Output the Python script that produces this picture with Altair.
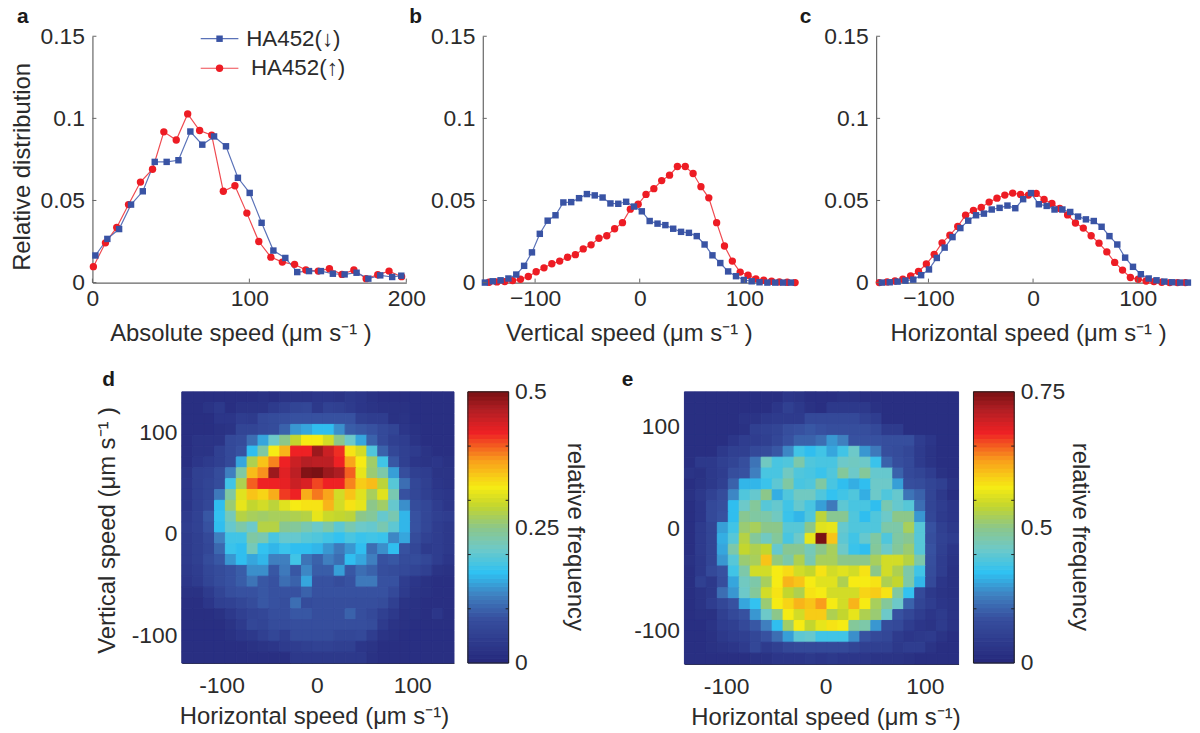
import altair as alt
import pandas as pd

FONT = "Liberation Sans"
INK = "#2b2b2b"
BLUE = "#3953a4"
RED = "#ed1c24"
BLUE_L = "#5a72b8"
RED_L = "#ef4a50"

# ---------- panel a
a_blue_x = [1.9,9.5,17,24.6,32.1,39.7,47.3,54.8,62.4,70,77.5,85.1,92.7,100.2,107.8,115.3,122.9,130.5,138,145.6,153.2,160.7,168.3,175.8,183.4,191,196.8]
a_blue_y = [.0165,.0266,.0326,.0475,.0556,.0735,.0735,.0745,.092,.084,.089,.083,.0638,.0546,.0364,.0195,.015,.0064,.007,.007,.0054,.005,.006,.0024,.0044,.0034,.0042]
a_red_x = [.6,8.3,15.5,23,30.6,38.3,45.5,53.4,60.7,68.3,76,83.4,90.8,98.4,106,113.7,121,128.8,136,143.9,151,159,166.6,174.4,181.8,189,197]
a_red_y = [.0097,.0242,.0336,.0475,.0612,.069,.0918,.0868,.1027,.0926,.0898,.0556,.059,.0423,.025,.0155,.0125,.0111,.0077,.007,.0085,.005,.0077,.0024,.0048,.007,.0036]

# ---------- panel b
b_blue_x = [-148,-140.5,-133,-125.5,-118,-110.5,-103,-95.5,-88,-80.5,-73,-65.5,-58,-50.5,-43,-35.5,-28,-20.5,-13,-5.5,2,9.5,17,24.5,32,39.5,47,54.5,62,69.5,77,84.5,92,99.5,107,114.5,122,129.5,137,144.5]
b_blue_y = [0,.0008,.0014,.0025,.0049,.0102,.0184,.0297,.0377,.041,.0488,.049,.0514,.0539,.0531,.0518,.0482,.048,.0492,.0463,.0434,.0375,.0359,.035,.0328,.0309,.0303,.0283,.0232,.0166,.0119,.0068,.0039,.0016,.0008,.0002,0,0,0,0]
b_red_x = [-144,-136.5,-129,-121.5,-114,-106.5,-99,-91.5,-84,-76.5,-69,-61.5,-54,-46.5,-39,-31.5,-24,-16.5,-9,-1.5,6,13.5,21,28.5,36,43.5,51,58.5,66,73.5,81,88.5,96,103.5,111,118.5,126,133.5,141,148.5]
b_red_y = [.0002,.0004,.0006,.0012,.002,.0037,.0066,.009,.0115,.0131,.0154,.017,.0205,.023,.027,.0285,.0328,.0365,.0447,.0477,.0537,.0572,.0621,.0654,.0707,.0707,.0664,.0584,.0516,.0365,.0223,.0131,.0064,.0045,.0023,.0014,.0008,.0004,.0002,0]

# ---------- panel c
c_blue_x = [-144.5,-137,-129.5,-122,-114.5,-107,-99.5,-92,-84.5,-77,-69.5,-62,-54.5,-47,-39.5,-32,-24.5,-17,-9.5,-2,5.5,13,20.5,28,35.5,43,50.5,58,65.5,73,80.5,88,95.5,103,110.5,118,125.5,133,140.5,148]
c_blue_y = [0,.0002,.0006,.0012,.0018,.0045,.008,.015,.0213,.0277,.0332,.0377,.041,.042,.0445,.0455,.0469,.0453,.0508,.0545,.0477,.0467,.0445,.0445,.043,.0402,.0385,.0375,.034,.0283,.0232,.0152,.0096,.0051,.0025,.0014,.0006,.0002,0,0]
c_red_x = [-147,-139.5,-132,-124.5,-117,-109.5,-102,-94.5,-87,-79.5,-72,-64.5,-57,-49.5,-42,-34.5,-27,-19.5,-12,-4.5,3,10.5,18,25.5,33,40.5,48,55.5,63,70.5,78,85.5,93,100.5,108,115.5,123,130.5,138,145.5]
c_red_y = [0,.0004,.001,.002,.0041,.0068,.0113,.0172,.0242,.0289,.0342,.041,.0439,.0457,.049,.0514,.0533,.0545,.0537,.0533,.0543,.0506,.0482,.0451,.0412,.0363,.0332,.0285,.024,.0187,.0123,.0076,.0031,.002,.001,.0006,.0002,0,0,0]

# ---------- heat maps (fraction of colour bar maximum, top row first)
d_rows = [
[.03,.03,.03,.03,.03,.03,.03,.04,.03,.05,.05,.05,.06,.06,.05,.07,.06,.04,.03,.03,.03,.03,.03,.03,.03],
[.03,.03,.05,.07,.03,.05,.05,.05,.08,.1,.12,.13,.07,.11,.1,.08,.06,.05,.04,.04,.04,.03,.03,.03,.03],
[.03,.03,.03,.06,.06,.09,.08,.14,.15,.16,.17,.17,.17,.17,.17,.17,.1,.09,.09,.04,.05,.03,.03,.03,.03],
[.03,.03,.03,.04,.05,.12,.12,.14,.15,.2,.28,.3,.33,.33,.27,.19,.18,.17,.14,.12,.06,.04,.03,.03,.03],
[.03,.05,.05,.05,.14,.15,.22,.3,.42,.5,.58,.65,.65,.6,.5,.42,.3,.2,.14,.1,.09,.05,.03,.03,.03],
[.03,.05,.05,.1,.14,.17,.33,.47,.65,.72,.85,.85,.96,.9,.84,.66,.6,.38,.2,.13,.1,.08,.05,.03,.03],
[.03,.06,.08,.1,.14,.3,.55,.7,.77,.85,.9,.93,.92,.92,.85,.74,.65,.53,.36,.18,.1,.06,.05,.06,.04],
[.05,.1,.11,.15,.25,.47,.71,.76,.96,.87,.92,.99,1,.96,.94,.8,.63,.52,.46,.29,.16,.1,.09,.05,.05],
[.06,.1,.12,.15,.36,.55,.8,.85,.85,.86,.9,.88,.82,.85,.85,.77,.69,.71,.57,.39,.22,.13,.1,.06,.05],
[.06,.1,.12,.24,.47,.62,.7,.68,.73,.83,.85,.73,.78,.74,.6,.7,.62,.54,.62,.45,.17,.13,.1,.07,.06],
[.06,.1,.13,.33,.52,.63,.58,.6,.57,.62,.65,.66,.66,.72,.6,.66,.63,.5,.53,.41,.27,.15,.13,.09,.06],
[.08,.11,.18,.34,.44,.56,.54,.53,.54,.54,.55,.56,.63,.59,.58,.57,.5,.48,.41,.45,.32,.17,.13,.1,.09],
[.09,.11,.17,.33,.41,.46,.42,.56,.56,.49,.48,.45,.42,.46,.4,.45,.42,.41,.45,.4,.32,.17,.13,.09,.07],
[.08,.1,.14,.25,.36,.36,.47,.45,.37,.41,.41,.39,.38,.36,.34,.37,.35,.36,.35,.26,.3,.15,.11,.09,.07],
[.08,.1,.13,.21,.35,.33,.44,.34,.32,.35,.33,.33,.32,.28,.24,.28,.33,.22,.27,.33,.17,.13,.08,.09,.07],
[.08,.1,.15,.18,.28,.33,.3,.32,.25,.25,.36,.23,.2,.25,.22,.33,.3,.25,.17,.18,.15,.15,.13,.09,.06],
[.07,.09,.13,.15,.17,.19,.27,.27,.18,.24,.18,.26,.19,.19,.29,.18,.22,.2,.16,.15,.14,.12,.1,.05,.04],
[.06,.08,.12,.15,.17,.19,.23,.18,.17,.22,.2,.3,.17,.17,.15,.17,.24,.24,.17,.17,.09,.06,.04,.03,.03],
[.04,.04,.08,.12,.16,.17,.17,.18,.17,.17,.17,.2,.17,.17,.17,.17,.17,.17,.17,.14,.08,.05,.04,.03,.03],
[.03,.03,.06,.1,.11,.13,.15,.18,.17,.16,.22,.15,.16,.16,.16,.16,.16,.16,.15,.1,.05,.04,.03,.03,.03],
[.03,.03,.03,.04,.07,.1,.12,.13,.16,.16,.18,.18,.16,.16,.16,.2,.16,.14,.1,.07,.04,.04,.03,.06,.03],
[.03,.03,.03,.03,.05,.08,.13,.12,.15,.15,.16,.16,.16,.16,.16,.16,.16,.15,.08,.05,.04,.03,.03,.03,.03],
[.03,.03,.03,.03,.04,.06,.07,.1,.13,.1,.15,.15,.15,.15,.13,.13,.14,.09,.05,.04,.03,.03,.03,.03,.03],
[.03,.03,.03,.03,.03,.03,.04,.05,.06,.08,.09,.1,.11,.11,.1,.1,.06,.05,.03,.03,.03,.03,.03,.03,.03],
[.03,.03,.03,.03,.03,.03,.03,.03,.03,.03,.07,.07,.07,.07,.07,.07,.07,.04,.03,.03,.03,.03,.03,.03,.03],
]
e_rows = [
[.03,.03,.03,.03,.03,.03,.03,.03,.03,.06,.05,.03,.03,.03,.04,.04,.03,.03,.03,.03,.03,.03,.03,.03,.03],
[.03,.03,.03,.03,.03,.03,.03,.03,.06,.1,.07,.04,.03,.07,.07,.07,.07,.04,.03,.03,.03,.03,.03,.03,.03],
[.03,.03,.03,.03,.03,.05,.05,.07,.08,.08,.08,.14,.14,.14,.14,.14,.11,.09,.03,.03,.03,.03,.03,.03,.03],
[.03,.03,.03,.03,.03,.04,.1,.11,.12,.16,.17,.18,.17,.16,.16,.16,.16,.14,.08,.08,.03,.03,.03,.03,.03],
[.03,.03,.03,.03,.06,.09,.09,.1,.13,.17,.2,.2,.22,.28,.25,.17,.17,.17,.16,.16,.16,.09,.06,.03,.03],
[.03,.03,.03,.07,.1,.1,.14,.15,.18,.26,.36,.33,.36,.3,.36,.42,.28,.24,.16,.15,.13,.08,.05,.03,.03],
[.03,.07,.07,.1,.12,.16,.23,.43,.37,.38,.46,.38,.37,.37,.42,.43,.42,.35,.2,.16,.14,.08,.05,.03,.03],
[.05,.04,.07,.09,.16,.17,.25,.37,.37,.43,.38,.37,.35,.38,.48,.42,.48,.41,.41,.2,.14,.12,.09,.04,.03],
[.03,.05,.07,.1,.2,.32,.32,.35,.4,.47,.37,.38,.47,.37,.33,.31,.33,.42,.42,.29,.16,.15,.12,.1,.05],
[.04,.07,.11,.15,.26,.38,.41,.5,.31,.38,.43,.43,.38,.34,.36,.38,.31,.42,.38,.41,.23,.2,.12,.07,.03],
[.03,.06,.14,.16,.33,.42,.48,.39,.41,.36,.41,.37,.29,.24,.4,.37,.37,.33,.45,.41,.39,.22,.12,.09,.06],
[.03,.06,.14,.17,.33,.49,.47,.46,.43,.35,.32,.38,.57,.49,.49,.38,.33,.38,.42,.5,.5,.28,.13,.08,.06],
[.03,.08,.12,.29,.36,.52,.54,.5,.5,.39,.39,.5,.62,.63,.41,.38,.38,.38,.46,.46,.54,.39,.17,.1,.07],
[.03,.08,.12,.31,.39,.56,.48,.43,.48,.37,.42,.63,1,.7,.4,.36,.41,.47,.38,.47,.49,.39,.16,.11,.09],
[.03,.08,.12,.3,.46,.58,.55,.58,.41,.49,.49,.44,.5,.54,.42,.35,.33,.48,.42,.48,.52,.39,.17,.1,.06],
[.04,.07,.12,.28,.39,.52,.54,.7,.51,.46,.55,.45,.54,.54,.5,.5,.5,.54,.6,.6,.56,.46,.16,.09,.05],
[.03,.07,.14,.17,.36,.46,.6,.6,.65,.67,.6,.58,.66,.6,.62,.6,.66,.5,.6,.55,.46,.36,.15,.09,.04],
[.03,.1,.07,.16,.3,.43,.46,.54,.65,.72,.7,.65,.62,.62,.55,.65,.65,.66,.55,.58,.46,.32,.14,.06,.04],
[.03,.05,.07,.22,.28,.42,.48,.6,.66,.58,.55,.66,.65,.6,.6,.6,.68,.69,.66,.47,.34,.14,.07,.05,.04],
[.03,.05,.09,.13,.17,.3,.34,.52,.65,.68,.72,.7,.75,.65,.6,.72,.65,.54,.48,.42,.2,.12,.09,.06,.05],
[.03,.04,.04,.1,.14,.17,.28,.42,.5,.65,.6,.69,.69,.55,.58,.63,.55,.52,.42,.17,.13,.09,.06,.08,.05],
[.03,.03,.05,.09,.1,.14,.18,.25,.33,.53,.65,.58,.63,.66,.65,.48,.46,.28,.15,.14,.09,.06,.05,.08,.05],
[.03,.03,.04,.07,.09,.1,.13,.17,.22,.29,.4,.41,.36,.36,.36,.27,.17,.14,.13,.08,.06,.07,.08,.05,.03],
[.03,.03,.04,.05,.06,.08,.13,.08,.1,.13,.14,.14,.14,.14,.14,.12,.1,.1,.1,.07,.09,.09,.05,.03,.03],
[.03,.03,.03,.03,.03,.03,.04,.04,.06,.06,.06,.07,.06,.07,.06,.06,.06,.05,.05,.05,.04,.03,.03,.03,.03],
]

jet_pos = [0,.168,.25,.335,.42,.5,.58,.65,.75,.85,.93,1]
jet_col = ["#26287c","#37509f","#3f7fbf","#2fc2f2","#6dc9c9","#8cc78a","#c3d62e","#f6eb14","#f99d1c","#ee2124","#b51f24","#7a1114"]
jet = alt.Scale(domain=jet_pos, range=jet_col, interpolate="rgb", clamp=True)

LABEL_SIZE = 23
TITLE_SIZE = 24


def axis(values, title=None, expr="format(datum.value,'~g')", domain=True, **kw):
    kw.setdefault("domainColor", "#666")
    return alt.Axis(values=values, title=title, labelExpr=expr, grid=False,
                    domain=domain, domainWidth=1.2, ticks=False, labelFlush=False, labelOverlap=False,
                    labelFont=FONT, labelFontSize=LABEL_SIZE, labelColor=INK,
                    titleFont=FONT, titleFontSize=TITLE_SIZE, titleColor=INK, titleFontWeight="normal",
                    **kw)


def letter(s, x, y):
    return alt.Chart(pd.DataFrame({"t": [s]})).mark_text(
        font=FONT, fontSize=21, fontWeight="bold", color="#1a1a1a", align="left", baseline="alphabetic"
    ).encode(text="t:N", x=alt.value(x), y=alt.value(y))


def curves(bx, by, rx, ry, xdom, xticks, xtitle, ytitle, ltr, lx, ly, tx, extra=None):
    xs = alt.Scale(domain=xdom, nice=False, zero=False)
    ys = alt.Scale(domain=[0, .15], nice=False)
    yticks = [0, .05, .1, .15]
    xax = axis(xticks, xtitle, labelPadding=5, titleX=tx, titleY=39, titleAlign="center")
    if ytitle:
        yax = axis(yticks, ytitle, labelPadding=8, titleX=-58, titleY=131, titleAlign="center")
    else:
        yax = axis(yticks, None, labelPadding=8)
    blue = pd.DataFrame({"x": bx, "y": by})
    red = pd.DataFrame({"x": rx, "y": ry})
    X = alt.X("x:Q", scale=xs, axis=xax)
    Y = alt.Y("y:Q", scale=ys, axis=yax)
    layers = [
        alt.Chart(red).mark_line(color=RED_L, strokeWidth=1.2).encode(x=X, y=Y),
        alt.Chart(blue).mark_line(color=BLUE_L, strokeWidth=1.2).encode(x=X, y=Y),
        alt.Chart(red).mark_point(filled=True, shape="circle", size=55, color=RED, opacity=1).encode(x=X, y=Y),
        alt.Chart(blue).mark_point(filled=True, shape="square", size=42, color=BLUE, opacity=1).encode(x=X, y=Y),
        alt.Chart(pd.DataFrame({"y": yticks})).mark_rule(color="#666").encode(
            x=alt.value(0), x2=alt.value(4), y=Y),
        alt.Chart(pd.DataFrame({"x": xticks})).mark_rule(color="#666").encode(
            y=alt.value(248), y2=alt.value(244), x=X),
        letter(ltr, lx, ly),
    ]
    if extra:
        layers += extra(X, Y)
    return alt.layer(*layers).properties(width=316, height=248)


# legend of panel a, in data units
leg_line_x = [69, 93]
leg_mark_x = [81]
leg_text_x = [98, 101]
leg_y = [.1485, .1305]
leg_labels = ["HA452(↓)", "HA452(↑)"]


def legend(X, Y):
    out = []
    for i, (col, line_col, shape, size) in enumerate([(BLUE, BLUE_L, "square", 42), (RED, RED_L, "circle", 55)]):
        d = pd.DataFrame({"x": leg_line_x, "y": [leg_y[i]] * 2})
        out.append(alt.Chart(d).mark_line(color=line_col, strokeWidth=1.2).encode(x=X, y=Y))
        m = pd.DataFrame({"x": leg_mark_x, "y": [leg_y[i]]})
        out.append(alt.Chart(m).mark_point(filled=True, shape=shape, size=size, color=col, opacity=1).encode(x=X, y=Y))
        t = pd.DataFrame({"x": [leg_text_x[i]], "y": [leg_y[i]], "t": [leg_labels[i]]})
        out.append(alt.Chart(t).mark_text(font=FONT, fontSize=22.5, color=INK, align="left", baseline="middle").encode(
            x=X, y=Y, text="t:N"))
    return out


panel_a = curves(a_blue_x, a_blue_y, a_red_x, a_red_y, [0, 200], [0, 100, 200],
                 "Absolute speed (μm s⁻¹ )", "Relative distribution", "a", -76, -13, 149, legend)
panel_b = curves(b_blue_x, b_blue_y, b_red_x, b_red_y, [-150, 150], [-100, 0, 100],
                 "Vertical speed (μm s⁻¹ )", None, "b", -74, -13, 147)
panel_c = curves(c_blue_x, c_blue_y, c_red_x, c_red_y, [-150, 150], [-100, 0, 100],
                 "Horizontal speed (μm s⁻¹ )", None, "c", -77, -13, 153)


def heat(rows, xdom, ydom, w, h, ytitle, ltr, lx, ly, tx):
    n = 25
    dx = (xdom[1] - xdom[0]) / n
    dy = (ydom[1] - ydom[0]) / n
    recs = []
    for j, row in enumerate(rows):
        for i, v in enumerate(row):
            recs.append({"x": xdom[0] + i * dx, "x2": xdom[0] + (i + 1) * dx,
                         "y": ydom[1] - j * dy, "y2": ydom[1] - (j + 1) * dy, "v": v})
    df = pd.DataFrame(recs)
    xs = alt.Scale(domain=xdom, nice=False, zero=False)
    ys = alt.Scale(domain=ydom, nice=False, zero=False)
    xax = axis([-100, 0, 100], "Horizontal speed (μm s⁻¹)", "datum.value", labelPadding=12,
               titleX=tx, titleY=42, titleAlign="center", domainColor="#333")
    if ytitle:
        yax = axis([-100, 0, 100], ytitle, "datum.value", labelPadding=5, titleX=-63, titleY=139,
                   titleAlign="center", domainColor="#555")
    else:
        yax = axis([-100, 0, 100], None, "datum.value", labelPadding=5, domainColor="#555")
    return alt.layer(
        alt.Chart(df).mark_rect(strokeWidth=1).encode(
            x=alt.X("x:Q", scale=xs, axis=xax), x2="x2:Q",
            y=alt.Y("y:Q", scale=ys, axis=yax), y2="y2:Q",
            color=alt.Color("v:Q", scale=jet, legend=None),
            stroke=alt.Stroke("v:Q", scale=jet, legend=None)),
        letter(ltr, lx, ly),
    ).properties(width=w, height=h)


def colorbar(vmax, labels, w=41, h=273):
    levels = list(range(64))
    df = pd.DataFrame({"y": [l / 64 * vmax for l in levels],
                       "y2": [(l + 1) / 64 * vmax for l in levels],
                       "v": [(l + .5) / 64 for l in levels]})
    ys = alt.Scale(domain=[0, vmax], nice=False)
    expr = "datum.value==0?'0':(datum.value==%g?'%s':'%s')" % (vmax, labels[2], labels[1])
    yax = alt.Axis(values=[0, vmax / 2, vmax], orient="right", title="relative frequency", titleAngle=90,
                   labelExpr=expr, grid=False, domain=False, ticks=False, labelOverlap=False, labelFlush=False,
                   labelFont=FONT, labelFontSize=LABEL_SIZE, labelColor=INK, labelPadding=6,
                   titleFont=FONT, titleFontSize=TITLE_SIZE, titleColor=INK, titleFontWeight="normal",
                   titleX=66, titleY=h / 2 + 9, titleAlign="center", titleBaseline="middle")
    Y = alt.Y("y:Q", scale=ys, axis=yax)
    frame = pd.DataFrame({"y": [0], "y2": [vmax]})
    ticks = pd.DataFrame({"y": [vmax * k for k in (.2, .4, .6, .8)]})
    return alt.layer(
        alt.Chart(df).mark_rect(strokeWidth=1).encode(
            x=alt.value(0), x2=alt.value(w), y=Y, y2="y2:Q",
            color=alt.Color("v:Q", scale=jet, legend=None),
            stroke=alt.Stroke("v:Q", scale=jet, legend=None)),
        alt.Chart(frame).mark_rect(fillOpacity=0, stroke="#222", strokeWidth=1).encode(
            x=alt.value(0), x2=alt.value(w), y=Y, y2="y2:Q"),
        alt.Chart(ticks).mark_rule(color="#222").encode(x=alt.value(0), x2=alt.value(3), y=Y),
        alt.Chart(ticks).mark_rule(color="#222").encode(x=alt.value(w - 3), x2=alt.value(w), y=Y),
    ).properties(width=w, height=h)


panel_d = heat(d_rows, [-141.7, 143.8], [-126.8, 139.5], 274, 273, "Vertical speed (μm s⁻¹ )", "d", -80, -6, 133)
panel_e = heat(e_rows, [-142, 134], [-133, 134], 276, 274, None, "e", -63, -6, 142)
bar_d = colorbar(.5, ["0", "0.25", "0.5"])
bar_e = colorbar(.75, ["0", "0.5", "0.75"])

spacer = alt.Chart(pd.DataFrame({"t": [""]})).mark_text().encode(text="t:N").properties(width=2, height=10)

row1 = alt.hconcat(panel_a, alt.hconcat(panel_b, panel_c, spacing=0), spacing=-17)
row2 = alt.hconcat(spacer,
                   alt.hconcat(alt.hconcat(panel_d, bar_d, spacing=12),
                               alt.hconcat(panel_e, bar_e, spacing=12), spacing=36),
                   spacing=0)
chart = alt.vconcat(row1, row2, spacing=24).configure_view(stroke=None).properties(
    padding={"left": 2, "top": -4, "right": 0, "bottom": 0},
    background="white")

chart.save("out.html", embed_options={"renderer": "svg", "actions": False})
